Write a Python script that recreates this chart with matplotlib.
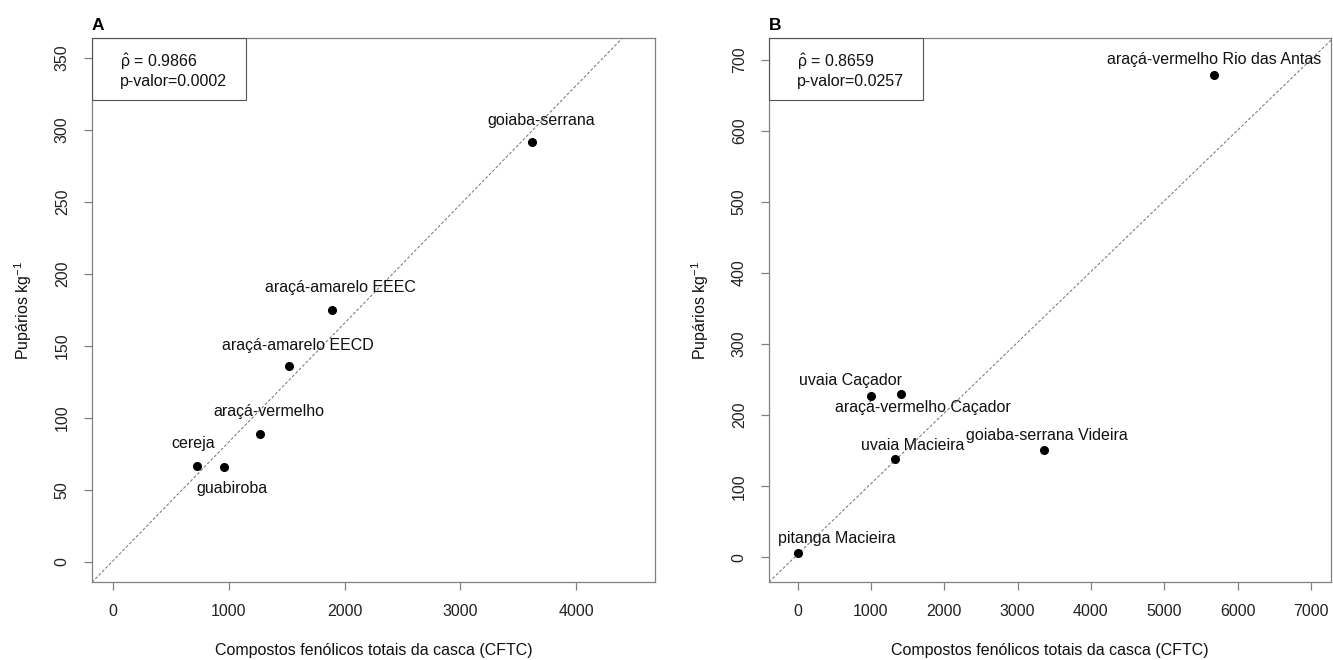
import matplotlib
matplotlib.use('Agg')
import matplotlib.pyplot as plt
import numpy as np
from matplotlib.patches import Rectangle

plt.rcParams['font.family'] = ['Liberation Sans', 'DejaVu Sans']
plt.rcParams['mathtext.fontset'] = 'custom'
plt.rcParams['mathtext.rm'] = 'Liberation Sans'
plt.rcParams['mathtext.it'] = 'Liberation Sans'

# dados painel A
nomes_a = ['goiaba-serrana', 'araçá-amarelo EEEC', 'araçá-amarelo EECD',
           'araçá-vermelho', 'cereja', 'guabiroba']
cftc_a = [3618, 1892, 1521, 1271, 728, 961]
pup_a = [292, 175, 136, 89, 67, 66]
rho_a = '0.9866'
pval_a = '0.0002'
reta_a = (0.7, 0.0826)  # intercepto, inclinacao

# dados painel B
nomes_b = ['araçá-vermelho Rio das Antas', 'uvaia Caçador', 'araçá-vermelho Caçador',
           'uvaia Macieira', 'goiaba-serrana Videira', 'pitanga Macieira']
cftc_b = [5685, 999, 1408, 1326, 3357, 8]
pup_b = [679, 227, 230, 139, 151, 6.6]
rho_b = '0.8659'
pval_b = '0.0257'
reta_b = (4.0, 0.0995)

# deslocamento dos rotulos (pixels)
desl_a = [(9, 21), (8, 23), (9, 21), (9, 22), (-4, 22), (8, -22)]
desl_b = [(0, 15), (-20, 15), (22, -14), (18, 13), (3, 14), (39, 14)]

cinza = '#808080'
fs = 11.5


def painel(ax, x, y, nomes, desl, reta, rho, pval, xlim, ylim, xticks, yticks, letra):
    ax.set_xlim(xlim)
    ax.set_ylim(ylim)
    xx = np.array(xlim)
    ax.plot(xx, reta[0] + reta[1] * xx, ls=(0, (3, 2)), color='#707070', lw=0.7)
    ax.plot(x, y, 'o', color='black', ms=5.5)
    for xi, yi, n, d in zip(x, y, nomes, desl):
        ax.annotate(n, (xi, yi), xytext=d, textcoords='offset pixels',
                    ha='center', va='center', fontsize=fs, color='#111111')
    ax.set_xticks(xticks)
    ax.set_yticks(yticks)
    ax.set_yticklabels([str(v) for v in yticks], rotation=90, va='center')
    ax.tick_params(direction='out', length=6, width=0.9, color=cinza,
                   labelsize=fs, labelcolor='#222222', pad=10)
    for s in ax.spines.values():
        s.set_color(cinza)
        s.set_linewidth(0.9)
    ax.set_xlabel('Compostos fenólicos totais da casca (CFTC)', fontsize=fs, labelpad=17, color='#111111')
    ax.set_ylabel('Pupários kg$^{-1}$', fontsize=fs, labelpad=15, color='#111111')
    ax.add_patch(Rectangle((0, 1 - 0.114), 0.274, 0.114, transform=ax.transAxes,
                           fill=False, edgecolor='#555555', lw=0.8, zorder=5))
    ax.text(0.05, 1 - 0.043, r'$\hat{\rho}$ = ' + rho, transform=ax.transAxes,
            fontsize=fs, va='center', ha='left', color='#111111')
    ax.text(0.05, 1 - 0.08, 'p-valor=' + pval, transform=ax.transAxes,
            fontsize=fs, va='center', ha='left', color='#111111')
    ax.text(0.0, 1.01, letra, transform=ax.transAxes, fontsize=12.5,
            fontweight='bold', va='bottom', ha='left')


fig = plt.figure(figsize=(13.33, 6.6), dpi=100)
ax1 = fig.add_axes([0.069, 0.118, 0.4225, 0.8245])
ax2 = fig.add_axes([0.5769, 0.118, 0.4216, 0.8245])

painel(ax1, cftc_a, pup_a, nomes_a, desl_a, reta_a, rho_a, pval_a,
       (-180, 4680), (-14, 364), [0, 1000, 2000, 3000, 4000],
       [0, 50, 100, 150, 200, 250, 300, 350], 'A')
painel(ax2, cftc_b, pup_b, nomes_b, desl_b, reta_b, rho_b, pval_b,
       (-390, 7275), (-35, 731), [0, 1000, 2000, 3000, 4000, 5000, 6000, 7000],
       [0, 100, 200, 300, 400, 500, 600, 700], 'B')

plt.savefig('out.png', dpi=100)
